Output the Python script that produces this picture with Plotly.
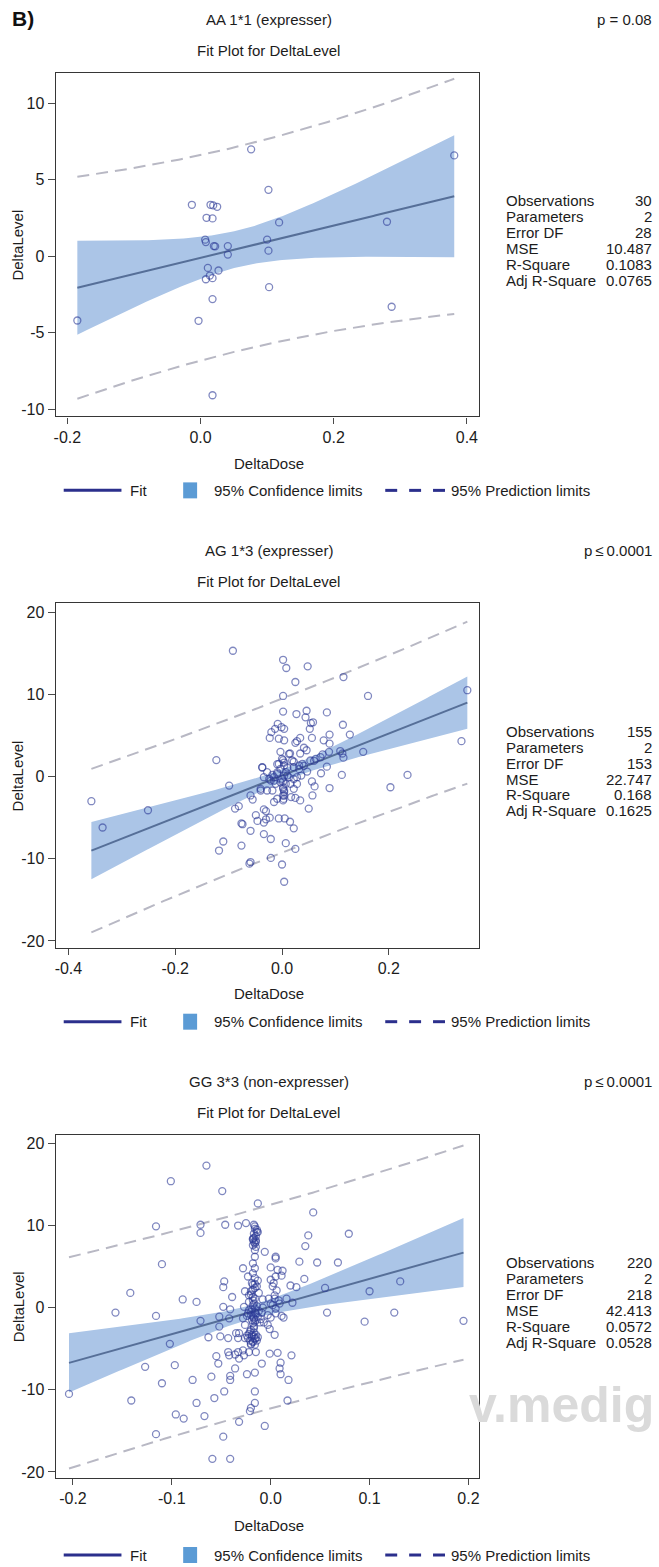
import numpy as np
import plotly.graph_objects as go

W, H = 659, 1567
FONT = "Liberation Sans, Arial, Helvetica, sans-serif"

# ---------------- data ----------------
# AA 1*1 (expresser)
aa_dose = [-0.185, 0.076, 0.381, 0.102, -0.013, 0.015, 0.019, 0.025, 0.009, 0.018,
           0.118, 0.280, 0.007, 0.008, 0.100, 0.020, 0.022, 0.041, 0.041, 0.102,
           0.011, 0.027, 0.014, 0.008, 0.018, 0.103, 0.018, -0.003, 0.287, 0.018]
aa_level = [-4.2, 7.0, 6.6, 4.35, 3.37, 3.37, 3.33, 3.24, 2.52, 2.48,
            2.22, 2.26, 1.09, 0.93, 1.09, 0.67, 0.65, 0.67, 0.11, 0.37,
            -0.76, -0.93, -1.26, -1.50, -1.43, -2.02, -2.80, -4.22, -3.30, -9.09]

# AG 1*3 (expresser)
ag_dose = [-0.357, -0.336, -0.251, -0.123, -0.099, -0.092, -0.088, -0.081, -0.076, -0.074,
           -0.076, -0.110, -0.118, -0.059, -0.055, -0.059, -0.059, -0.061, -0.049, -0.046,
           -0.040, -0.037, -0.034, -0.030, -0.028, -0.034, -0.023, -0.021, -0.021, -0.023,
           -0.020, -0.013, -0.008, -0.006, -0.001, 0.004, 0.004, 0.002, 0.002, 0.002,
           0.008, 0.025, 0.048, 0.027, 0.046, 0.044, 0.054, 0.058, 0.052, 0.084,
           0.114, 0.115, 0.161, 0.347, 0.336, 0.127, 0.089, 0.078, 0.056, 0.034,
           0.028, 0.025, 0.041, 0.046, 0.034, 0.015, -0.003, 0.002, 0.004, 0.022,
           0.010, -0.009, 0.032, 0.041, 0.060, 0.076, 0.088, 0.089, 0.109, 0.115,
           0.113, 0.112, 0.152, 0.084, 0.073, 0.056, 0.061, 0.089, 0.057, 0.050,
           0.034, 0.025, 0.017, 0.002, 0.004, 0.004, 0.002, 0.007, -0.003, -0.015,
           -0.024, -0.018, -0.009, 0.004, 0.013, 0.022, 0.028, 0.047, 0.203, 0.235,
           0.002, -0.006, 0.005, 0.015, 0.022, 0.007, 0.025, 0.000, 0.004, -0.034,
           -0.030, -0.009, -0.015,
           0.000, 0.004, -0.003, 0.007, -0.009, -0.015, -0.021, -0.012, 0.000, 0.010,
           0.016, 0.002, 0.004, 0.002, 0.003, 0.022, 0.032, 0.038, 0.028, 0.036,
           0.022, -0.028, -0.034, -0.040, -0.037, 0.013, 0.019, -0.006, 0.053, 0.063,
           0.072, -0.018]
ag_level = [-3.0, -6.2, -4.1, 2.0, -1.1, 15.3, -3.9, -3.6, -5.7, -5.8,
            -8.4, -7.9, -9.0, -2.3, -2.8, -6.6, -10.4, -10.6, -4.7, -5.4,
            -1.7, 1.1, -5.6, -5.2, -1.7, -7.0, -5.0, -7.6, -9.9, 4.7,
            5.4, 5.8, 6.4, 4.6, 6.0, 5.8, 4.4, 7.9, 9.8, 14.2,
            13.2, 11.5, 13.4, 7.6, 8.0, 7.2, 6.5, 6.6, 5.8, 7.8,
            6.3, 12.1, 9.8, 10.5, 4.3, 5.1, 5.1, 4.4, 4.7, 4.7,
            4.3, 4.1, 3.5, 3.2, 2.8, 2.8, 3.0, 2.0, 1.7, 1.8,
            1.1, 1.5, 0.9, 1.3, 1.9, 2.7, 3.0, 4.0, 3.1, 2.3,
            2.8, 0.2, 3.0, 1.2, 0.4, -0.6, -1.2, -1.4, -2.3, -3.9,
            -2.9, -2.6, -2.5, -2.9, -2.3, -1.7, -1.3, -0.9, -0.7, -0.5,
            -0.3, 0.2, 0.5, 0.1, -0.1, -0.3, -0.9, 0.6, -1.3, 0.2,
            -0.6, -5.1, -5.1, -5.5, -6.3, -8.1, -8.8, -10.7, -12.8, -4.0,
            -4.2, -2.7, -3.1,
            2.15, 1.34, 0.93, 0.53, 0.32, -0.08, -0.49, -0.89, -0.28, 0.12,
            -0.89, -1.5, -1.9, -2.31, -2.72, 1.13, 1.34, 1.54, -0.08, 0.12,
            -1.5, 0.53, -0.08, -1.5, 1.13, 2.76, 1.95, 1.54, 1.95, 2.15,
            2.35, -1.7]

# GG 3*3 (non-expresser)
gg_dose = [-0.204, -0.157, -0.142, -0.141, -0.127, -0.116, -0.116, -0.110, -0.110, -0.102,
           -0.101, -0.097, -0.089, -0.079, -0.075, -0.075, -0.071, -0.071, -0.071, -0.065,
           -0.063, -0.060, -0.057, -0.055, -0.053, -0.052, -0.051, -0.049, -0.048, -0.047,
           -0.047, -0.048, -0.046, -0.043, -0.041, -0.041, -0.041, -0.039, -0.036, -0.036,
           -0.033, -0.032, -0.028, -0.028, -0.025, -0.024, -0.026, -0.026, -0.026, -0.016,
           -0.016, -0.013, -0.009, -0.006, -0.001, 0.005, 0.007, 0.010, 0.010, 0.018,
           0.021, 0.017, 0.000, 0.007, 0.012, 0.011, 0.000, 0.002, 0.006, 0.020,
           0.026, 0.016, 0.022, -0.008, 0.000, 0.009, 0.005, 0.011, 0.013, 0.000,
           -0.007, 0.029, 0.034, 0.035, 0.038, 0.043, 0.047, 0.055, 0.057, 0.068,
           0.079, 0.095, 0.100, 0.125, 0.131, 0.195, 0.005,
           -0.096, -0.088, -0.067, -0.116, -0.048, -0.059, -0.041, -0.032, -0.016, -0.020,
           -0.021, -0.006,
           -0.017, -0.016, -0.014, -0.018, -0.017, -0.015, -0.018, -0.016, -0.016, -0.018,
           -0.016, -0.018, -0.016, -0.018, -0.016, -0.020, -0.018, -0.016, -0.018, -0.016,
           -0.020, -0.015, -0.018, -0.019, -0.016, -0.017, -0.021, -0.019, -0.017, -0.015,
           -0.018, -0.016, -0.015,
           -0.023, -0.022, -0.022, -0.027, -0.023, -0.028, -0.035, -0.033, -0.042, -0.043,
           -0.052, -0.042, -0.033, -0.032, -0.027, -0.020, -0.022, 0.009, -0.001, 0.004,
           0.004, -0.003, -0.002, 0.005, -0.003, 0.002, 0.008, 0.004, 0.003, 0.005,
           -0.016, -0.014, -0.017, -0.015, -0.018, -0.015, -0.016, -0.013, -0.017, -0.015,
           -0.019, -0.014, -0.018, -0.012, -0.020, -0.016, -0.013, -0.018,
           -0.017, -0.014, -0.019, -0.012, -0.016, -0.020, -0.013, -0.017, -0.015, -0.011,
           -0.018, -0.022, -0.009, -0.024, -0.008, -0.010,
           -0.020, -0.017, -0.022, -0.015, -0.019, -0.023, -0.016, -0.021, -0.018, -0.014,
           -0.024, -0.013, -0.020, -0.017]
gg_level = [-10.5, -0.6, 1.8, -11.3, -7.2, 9.9, -1.0, 5.3, -9.2, -4.4,
            15.4, -7.0, 1.0, -8.8, 0.7, -11.6, 10.1, 9.1, -1.6, 17.3,
            -3.6, -8.4, -11.0, -5.9, -6.8, -1.1, -3.5, 14.2, 0.1, -10.2,
            3.2, 2.5, 10.1, -5.4, -8.3, -8.8, -0.2, 1.3, -7.4, -5.7,
            10.0, -3.1, 4.8, -5.2, 10.3, -8.1, 2.0, -2.1, -3.7, -7.9,
            -10.2, 12.7, -6.8, 6.8, -2.6, 6.2, -5.5, -6.7, -8.1, -8.8,
            -5.8, -11.3, 4.9, 4.6, 4.5, 3.9, 3.4, 2.6, 2.1, 2.7,
            2.5, 1.1, 0.6, 1.0, 0.5, 0.5, -0.1, -1.0, -1.2, -1.2,
            -1.8, 5.6, 3.5, 7.5, 8.8, 11.6, 5.5, 2.4, -0.6, 5.5,
            9.0, -1.7, 2.0, -0.6, 3.2, -1.6, 6.0,
            -13.0, -13.5, -13.2, -15.4, -15.7, -18.4, -18.4, -13.9, -11.6, -12.2,
            -12.6, -14.4,
            10.1, 9.6, 9.2, 8.4, 8.0, 8.2, 7.6, 7.0, 6.2, 5.4,
            4.8, 4.2, 3.6, 2.8, 2.4, 2.0, 1.3, 1.1, 0.3, -0.1,
            -0.5, -0.7, -1.1, -1.5, -1.7, -2.3, -2.9, -3.3, -3.5, -3.7,
            -4.1, -4.5, -5.4,
            3.8, 1.5, 0.7, 0.1, -0.7, -1.3, -3.1, -3.7, -1.3, -3.7,
            -2.3, -5.8, -5.4, -6.2, -5.8, -4.5, -5.4, -7.4, -5.6, -3.3,
            1.1, -2.1, 1.1, -0.7, -0.9, 0.3, 0.9, 1.5, 3.0, 3.8,
            9.9, 9.5, 9.0, 8.7, 8.3, 8.0, 7.8, 9.2, 8.5, 7.4,
            3.0, 2.6, 2.2, 1.8, 1.6, 2.9, 3.3, 0.9,
            0.5, 0.2, -0.2, -0.4, -0.6, -0.9, -1.1, -1.3, -1.5, -1.8,
            -1.9, -0.3, -0.6, -1.0, 0.0, -1.4,
            -2.7, -3.0, -3.2, -3.3, -3.5, -3.7, -3.8, -4.0, -4.2, -4.0,
            -3.4, -3.6, -4.4, -2.5]

stat_names = ["Observations", "Parameters", "Error DF", "MSE", "R-Square", "Adj R-Square"]
aa_stats = ["30", "2", "28", "10.487", "0.1083", "0.0765"]
ag_stats = ["155", "2", "153", "22.747", "0.168", "0.1625"]
gg_stats = ["220", "2", "218", "42.413", "0.0572", "0.0528"]

group_titles = ["AA 1*1 (expresser)", "AG 1*3 (expresser)", "GG 3*3 (non-expresser)"]
p_labels = ["p = 0.08", "p\u2009\u2264\u20090.0001", "p\u2009\u2264\u20090.0001"]

aa_xticks = [-0.2, 0.0, 0.2, 0.4]
ag_xticks = [-0.4, -0.2, 0.0, 0.2]
gg_xticks = [-0.2, -0.1, 0.0, 0.1, 0.2]
aa_yticks = [-10, -5, 0, 5, 10]
ag_yticks = [-20, -10, 0, 10, 20]
gg_yticks = [-20, -10, 0, 10, 20]

assert len(aa_dose) == len(aa_level) == 30
assert len(ag_dose) == len(ag_level) == 155
assert len(gg_dose) == len(gg_level) == 220


# ---------------- regression ----------------
def t975(df):
    """Upper 97.5% point of Student's t (Cornish-Fisher expansion)."""
    z = 1.959963985
    v = float(df)
    return (z + (z**3 + z) / (4 * v)
            + (5 * z**5 + 16 * z**3 + 3 * z) / (96 * v**2)
            + (3 * z**7 + 19 * z**5 + 17 * z**3 - 15 * z) / (384 * v**3))


def fit_with_limits(xs, ys, npts=150):
    x = np.asarray(xs, float)
    y = np.asarray(ys, float)
    n = len(x)
    xm = x.mean()
    sxx = ((x - xm) ** 2).sum()
    b1 = ((x - xm) * (y - y.mean())).sum() / sxx
    b0 = y.mean() - b1 * xm
    mse = ((y - b0 - b1 * x) ** 2).sum() / (n - 2)
    t = t975(n - 2)
    g = np.linspace(x.min(), x.max(), npts)
    f = b0 + b1 * g
    se_m = np.sqrt(mse * (1.0 / n + (g - xm) ** 2 / sxx))
    se_p = np.sqrt(mse * (1.0 + 1.0 / n + (g - xm) ** 2 / sxx))
    return g, f, f - t * se_m, f + t * se_m, f - t * se_p, f + t * se_p


# ---------------- figure ----------------
BAND = "#abc5e7"
FITC = "#566f98"
PRED = "#b8b8c4"
PTS = "#2b3896"
NAVY = "#2b2f8c"
LEGBOX = "#5b9bd5"
TXT = "#1c1c1c"

panels = [
    dict(x=aa_dose, y=aa_level, stats=aa_stats, xt=aa_xticks, yt=aa_yticks,
         xr=[-0.2174, 0.4179], yr=[-10.48, 12.0], top=73, bottom=417, off=0, leg=491),
    dict(x=ag_dose, y=ag_level, stats=ag_stats, xt=ag_xticks, yt=ag_yticks,
         xr=[-0.4237, 0.3685], yr=[-20.83, 21.08], top=604, bottom=949, off=531, leg=1023),
    dict(x=gg_dose, y=gg_level, stats=gg_stats, xt=gg_xticks, yt=gg_yticks,
         xr=[-0.2174, 0.2105], yr=[-20.75, 21.08], top=1136, bottom=1480, off=1063, leg=1557),
]

BOX_L, BOX_R = 54, 479

fig = go.Figure()
layout_axes = {}
annotations = []
shapes = []


def px_x(v):
    return v / W


def px_y(v):
    return 1 - v / H


def label(text, x, y, size=15, xanchor="center", bold=False, angle=0, color=TXT):
    annotations.append(dict(
        text=f"<b>{text}</b>" if bold else text,
        x=px_x(x), y=px_y(y), xref="paper", yref="paper",
        xanchor=xanchor, yanchor="middle", showarrow=False, textangle=angle,
        font=dict(family=FONT, size=size, color=color)))


for i, p in enumerate(panels):
    k = i + 1
    xa = "x" if k == 1 else f"x{k}"
    ya = "y" if k == 1 else f"y{k}"
    g, f, cl, cu, pl, pu = fit_with_limits(p["x"], p["y"])

    # confidence band
    fig.add_trace(go.Scatter(
        x=np.concatenate([g, g[::-1]]), y=np.concatenate([cu, cl[::-1]]),
        fill="toself", fillcolor=BAND, line=dict(width=0), mode="lines",
        hoverinfo="skip", showlegend=False, xaxis=xa, yaxis=ya))
    # prediction limits
    for arr in (pu, pl):
        fig.add_trace(go.Scatter(
            x=g, y=arr, mode="lines", showlegend=False, hoverinfo="skip",
            line=dict(color=PRED, width=2, dash="12px,7px"), xaxis=xa, yaxis=ya))
    # fitted line
    fig.add_trace(go.Scatter(
        x=g, y=f, mode="lines", showlegend=False,
        line=dict(color=FITC, width=2), xaxis=xa, yaxis=ya))
    # observations
    fig.add_trace(go.Scatter(
        x=p["x"], y=p["y"], mode="markers", showlegend=False,
        marker=dict(symbol="circle-open", size=7, color=PTS, opacity=0.6,
                    line=dict(width=1.3)),
        xaxis=xa, yaxis=ya))

    common = dict(showline=True, linecolor="#363636", linewidth=1.3, mirror=True,
                  showgrid=False, zeroline=False, ticks="outside", tickwidth=1,
                  tickcolor="#4a4a4a",
                  tickfont=dict(family=FONT, size=16, color=TXT))
    layout_axes[f"xaxis{'' if k == 1 else k}"] = dict(
        domain=[px_x(BOX_L), px_x(BOX_R)], anchor=ya, range=p["xr"],
        tickvals=p["xt"], ticktext=[f"{v:.1f}" for v in p["xt"]], ticklen=6, **common)
    layout_axes[f"yaxis{'' if k == 1 else k}"] = dict(
        domain=[px_y(p["bottom"]), px_y(p["top"])], anchor=xa, range=p["yr"],
        tickvals=p["yt"], ticktext=[f"{v:d}" for v in p["yt"]], ticklen=7, **common)

    off = p["off"]
    cx = 268
    label(group_titles[i], cx, 20 + off)
    label(p_labels[i], 655, 20 + off, xanchor="right")
    label("Fit Plot for DeltaLevel", cx, 51 + off)
    label("DeltaDose", cx, 464 + off)
    label("DeltaLevel", 16, (p["top"] + p["bottom"]) / 2, angle=-90)

    # statistics table
    for r, (name, val) in enumerate(zip(stat_names, p["stats"])):
        yy = 201 + off + 16 * r
        label(name, 504, yy, xanchor="left")
        label(val, 655, yy, xanchor="right")

    # legend row
    ly = p["leg"]
    shapes.append(dict(type="line", xref="paper", yref="paper",
                       x0=px_x(62), x1=px_x(120), y0=px_y(ly), y1=px_y(ly),
                       line=dict(color=NAVY, width=3)))
    label("Fit", 127, ly, xanchor="left")
    shapes.append(dict(type="rect", xref="paper", yref="paper",
                       x0=px_x(182), x1=px_x(196), y0=px_y(ly + 8), y1=px_y(ly - 8),
                       fillcolor=LEGBOX, line=dict(width=0)))
    label("95% Confidence limits", 211, ly, xanchor="left")
    for a, b in ((385, 397), (409, 421), (433, 445)):
        shapes.append(dict(type="line", xref="paper", yref="paper",
                           x0=px_x(a), x1=px_x(b), y0=px_y(ly), y1=px_y(ly),
                           line=dict(color=NAVY, width=3)))
    label("95% Prediction limits", 449, ly, xanchor="left")

label("B)", 8, 19, size=21, xanchor="left", bold=True, color="#111")
label("v.medig", 657, 1407, size=50, xanchor="right", bold=True, color="#dadada")

fig.update_layout(
    width=W, height=H, margin=dict(l=0, r=0, t=0, b=0),
    paper_bgcolor="white", plot_bgcolor="white",
    showlegend=False, annotations=annotations, shapes=shapes,
    font=dict(family=FONT, size=15, color=TXT),
    **layout_axes)

fig.write_html("out.html")
